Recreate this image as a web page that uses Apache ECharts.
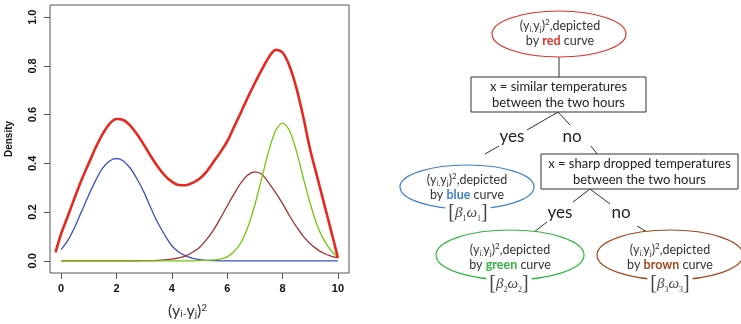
<!DOCTYPE html>
<html>
<head>
<meta charset="utf-8">
<script src="https://cdn.jsdelivr.net/npm/echarts@6/dist/echarts.min.js"></script>
<style>
  html, body { margin: 0; padding: 0; background: #fff; }
  #main { width: 741px; height: 324px; }
</style>
</head>
<body>
<div id="main"></div>
<script>
// densities, every 0.25
var xs = [0, 0.25, 0.5, 0.75, 1, 1.25, 1.5, 1.75, 2, 2.25, 2.5, 2.75, 3, 3.25, 3.5, 3.75, 4, 4.25, 4.5, 4.75,
          5, 5.25, 5.5, 5.75, 6, 6.25, 6.5, 6.75, 7, 7.25, 7.5, 7.75, 8, 8.25, 8.5, 8.75, 9, 9.25, 9.5, 9.75, 10];
var blueY  = [0.046, 0.085, 0.14, 0.205, 0.27, 0.33, 0.38, 0.41, 0.42, 0.41, 0.38, 0.335, 0.28, 0.215, 0.155, 0.105, 0.062, 0.036, 0.02, 0.01,
              0.005, 0.002, 0.001, 0, 0, 0, 0, 0, 0, 0, 0, 0, 0, 0, 0, 0, 0, 0, 0, 0, 0];
var brownY = [0, 0, 0, 0, 0, 0, 0, 0, 0, 0, 0, 0, 0.001, 0.001, 0.002, 0.004, 0.007, 0.012, 0.02, 0.035,
              0.055, 0.087, 0.125, 0.173, 0.225, 0.275, 0.32, 0.352, 0.365, 0.355, 0.32, 0.28, 0.235, 0.185, 0.14, 0.1, 0.07, 0.047, 0.03, 0.019, 0.012];
var greenY = [0, 0, 0, 0, 0, 0, 0, 0, 0, 0, 0, 0, 0, 0, 0, 0, 0, 0, 0, 0,
              0.001, 0.002, 0.003, 0.007, 0.016, 0.038, 0.075, 0.14, 0.23, 0.34, 0.45, 0.535, 0.565, 0.535, 0.45, 0.34, 0.235, 0.145, 0.085, 0.042, 0.014];
var redX = [-0.2, 0, 0.25, 0.5, 0.75, 1, 1.25, 1.5, 1.75, 2, 2.25, 2.5, 2.75, 3, 3.25, 3.5, 3.75, 4, 4.25, 4.5, 4.75,
            5, 5.25, 5.5, 5.75, 6, 6.25, 6.5, 6.75, 7, 7.25, 7.5, 7.75, 8, 8.25, 8.5, 8.75, 9, 9.25, 9.5, 9.75, 10];
var redY = [0.035, 0.11, 0.185, 0.262, 0.335, 0.40, 0.465, 0.52, 0.562, 0.582, 0.578, 0.555, 0.518, 0.475, 0.428, 0.385, 0.35, 0.325, 0.311, 0.31, 0.32,
            0.337, 0.365, 0.405, 0.445, 0.49, 0.55, 0.61, 0.672, 0.73, 0.785, 0.835, 0.866, 0.855, 0.80, 0.71, 0.59, 0.455, 0.345, 0.235, 0.125, 0.012];
var xTicks = [0, 2, 4, 6, 8, 10];
var yTicks = [0, 0.2, 0.4, 0.6, 0.8, 1.0];

function pairs(x, y) {
    return x.map(function (v, i) { return [v, y[i]]; });
}

var myChart = echarts.init(document.getElementById('main'));

var txtFont = 'Lato, "Open Sans", sans-serif';
var mathFont = '"Liberation Serif", "DejaVu Serif", serif';
var txtRich = {
    s: { fontSize: 8, lineHeight: 8, verticalAlign: 'bottom', fontFamily: txtFont, fill: '#333' },
    p: { fontSize: 8, lineHeight: 8, verticalAlign: 'top', fontFamily: txtFont, fill: '#333' },
    red: { fontWeight: 'bold', fill: '#e3322b', fontSize: 12.5, fontFamily: txtFont },
    blue: { fontWeight: 'bold', fill: '#3f7fca', fontSize: 12.5, fontFamily: txtFont },
    green: { fontWeight: 'bold', fill: '#33b540', fontSize: 12.5, fontFamily: txtFont },
    brown: { fontWeight: 'bold', fill: '#a3491d', fontSize: 12.5, fontFamily: txtFont }
};
var betaRich = {
    br: { fontSize: 20, fontFamily: mathFont, fill: '#444' },
    g: { fontSize: 15, fontStyle: 'italic', fontFamily: mathFont, fill: '#444' },
    gs: { fontSize: 8, lineHeight: 8, verticalAlign: 'bottom', fontFamily: mathFont, fill: '#444' }
};

function ellipse(cx, cy, rx, ry, color) {
    return { type: 'ellipse', shape: { cx: cx, cy: cy, rx: rx, ry: ry },
        style: { fill: '#fff', stroke: color, lineWidth: 1.2 } };
}
function label(x, y, word) {
    return { type: 'text', x: x, y: y, style: {
        text: '(y{s|i.}y{s|j}){p|2},depicted\nby {' + word + '|' + word + '} curve',
        fontSize: 12.5, lineHeight: 15, fontFamily: txtFont, fill: '#333',
        align: 'center', verticalAlign: 'middle', rich: txtRich } };
}
function beta(x, y, n) {
    return { type: 'text', x: x, y: y, z: 10, style: {
        text: '{br|[}{g|β}{gs|' + n + '}{g|ω}{gs|' + n + '}{br|]}',
        align: 'center', verticalAlign: 'middle', backgroundColor: '#fff',
        padding: [0, 3], rich: betaRich } };
}
function seg(x1, y1, x2, y2) {
    return { type: 'line', shape: { x1: x1, y1: y1, x2: x2, y2: y2 },
        style: { stroke: '#333', lineWidth: 1 } };
}
function box(x, y, w, h, text) {
    return [
        { type: 'rect', shape: { x: x, y: y, width: w, height: h },
          style: { fill: '#fff', stroke: '#333', lineWidth: 1 } },
        { type: 'text', x: x + w / 2, y: y + h / 2, style: {
            text: text, fontSize: 13, lineHeight: 16, fontFamily: txtFont, fill: '#222',
            align: 'center', verticalAlign: 'middle' } }
    ];
}
function word(x, y, t) {
    return { type: 'text', x: x, y: y, style: { text: t, fontSize: 17, fontFamily: txtFont,
        fill: '#222', align: 'center', verticalAlign: 'middle' } };
}

var tree = [
    seg(559, 57, 559, 77),
    seg(558, 112, 527, 130), seg(499, 146, 485, 154),
    seg(558, 112, 570, 125), seg(591, 146, 597, 154),
    seg(590, 189, 573, 202), seg(547, 222, 534, 232),
    seg(590, 189, 610, 204), seg(637, 226, 647, 232),
    ellipse(559, 34, 67, 23, '#e0322b'), label(560, 33, 'red'),
    ellipse(467, 187, 67, 22, '#3f7fca'), label(467, 187, 'blue'), beta(468, 213, 1),
    ellipse(510, 255, 74, 25, '#2fb63a'), label(510, 257, 'green'), beta(509, 284, 2),
    ellipse(670, 255, 73, 25, '#a0471c'), label(670, 257, 'brown'), beta(670, 284, 3),
    word(512, 137, 'yes'), word(572, 137, 'no'),
    word(560, 213, 'yes'), word(621, 213, 'no')
].concat(box(471, 77, 175, 35, 'x = similar temperatures\nbetween the two hours'))
 .concat(box(541, 154, 197, 35, 'x = sharp dropped temperatures\nbetween the two hours'));

var axisFont = { fontFamily: '"Liberation Sans", Arial, sans-serif', fontWeight: 'bold', fontSize: 11, color: '#111' };

function curve(data, color, width) {
    return { type: 'line', data: data, smooth: 0.3, showSymbol: false,
        lineStyle: { color: color, width: width } };
}

var option = {
    animation: false,
    backgroundColor: '#fff',
    grid: {
        left: 50, right: 392, top: 5, bottom: 50,
        show: true, borderColor: '#555', borderWidth: 1
    },
    xAxis: {
        type: 'value', min: -0.4, max: 10.4,
        axisLine: { show: false, onZero: false },
        axisTick: { show: true, length: 6, lineStyle: { color: '#555' }, customValues: xTicks },
        axisLabel: Object.assign({ margin: 10, customValues: xTicks }, axisFont),
        splitLine: { show: false },
        name: '(y{s|i-}y{s|j}){p|2}',
        nameLocation: 'middle', nameGap: 30,
        nameTextStyle: {
            fontFamily: txtFont, fontSize: 16, color: '#333', padding: [0, 24, 0, 0],
            rich: {
                s: { fontSize: 10, lineHeight: 10, verticalAlign: 'bottom', fontFamily: txtFont, color: '#333' },
                p: { fontSize: 10, lineHeight: 10, verticalAlign: 'top', fontFamily: txtFont, color: '#333' }
            }
        }
    },
    yAxis: {
        type: 'value', min: -0.05, max: 1.05,
        axisLine: { show: false, onZero: false },
        axisTick: { show: true, length: 6, lineStyle: { color: '#555' }, customValues: yTicks },
        axisLabel: Object.assign({ margin: 12, rotate: 90, customValues: yTicks,
            formatter: function (v) { return v.toFixed(1); } }, axisFont),
        splitLine: { show: false },
        name: 'Density', nameLocation: 'middle', nameGap: 36, nameRotate: 90,
        nameTextStyle: { fontFamily: '"Liberation Sans", Arial, sans-serif', fontWeight: 'bold', fontSize: 10, color: '#111' }
    },
    series: [
        curve(pairs(xs, blueY), '#3d4fbf', 1.3),
        curve(pairs(xs, brownY), '#a53030', 1.3),
        curve(pairs(xs, greenY), '#72c80a', 1.3),
        curve(pairs(redX, redY), '#e5291f', 2.6)
    ],
    graphic: tree
};

myChart.setOption(option);
</script>
</body>
</html>
